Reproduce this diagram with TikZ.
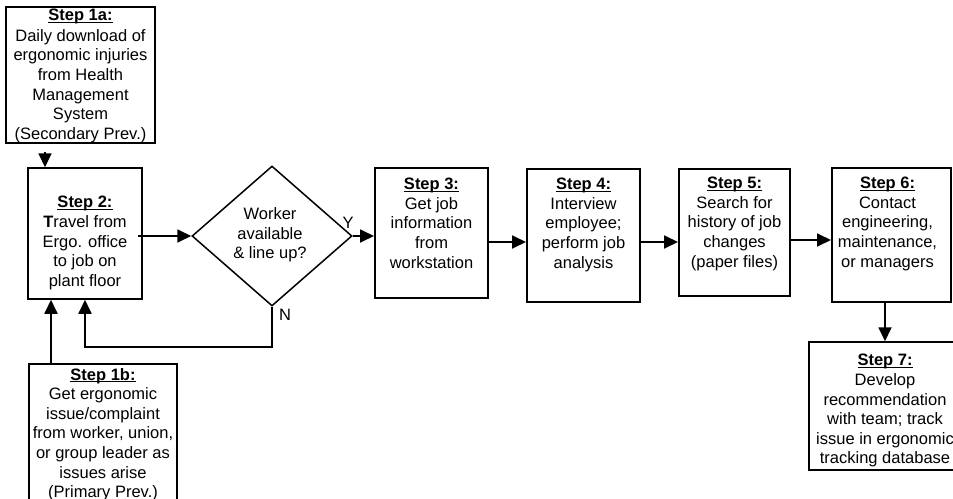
\documentclass[tikz,border=0pt]{standalone}
\usepackage{fontspec}
\setmainfont{Liberation Sans}
\usetikzlibrary{shapes.geometric,arrows.meta}

\newcommand{\stephead}[1]{\sbox0{\textbf{#1}}\rlap{\rule[-2pt]{\wd0}{1.2pt}}\usebox0}

\begin{document}
\begin{tikzpicture}[x=1pt,y=-1pt,
			box/.style={draw, line width=2pt, inner sep=0pt},
			thinbox/.style={draw, line width=1.5pt, inner sep=0pt},
			txt/.style={font=\fontsize{16.5}{19.6}\selectfont, align=center, inner sep=0pt},
			flow/.style={line width=1.8pt, -{Triangle[length=14pt,width=13pt]}}]
			\useasboundingbox (0,0) rectangle (953,498);
			\clip (0,0) rectangle (953,498);
			% boxes
			\node[box, minimum width=149pt, minimum height=136pt] (s1a) at (80.5,75) {};
			\node[thinbox, minimum width=114pt, minimum height=131pt] (s2) at (85,233.5) {};
			\node[box, minimum width=148pt, minimum height=144pt] (s1b) at (103,436) {};
			\node[draw, diamond, line width=1.5pt, aspect=1.14, inner sep=0pt, minimum width=160pt, minimum height=140pt] (dec) at (272,236) {};
			\node[box, minimum width=113pt, minimum height=130pt] (s3) at (431.5,233) {};
			\node[box, minimum width=113pt, minimum height=133pt] (s4) at (583.5,235.5) {};
			\node[box, minimum width=111pt, minimum height=127pt] (s5) at (734.5,232.5) {};
			\node[box, minimum width=119pt, minimum height=134pt] (s6) at (891.5,235) {};
			\node[thinbox, minimum width=152pt, minimum height=128pt] (s7) at (885,406) {};
			% texts
			\node[txt, anchor=north] (t1a) at ([yshift=-3pt]s1a.north) {\stephead{Step 1a:}\\[1pt]Daily download of\\ergonomic injuries\\from Health\\Management\\System\\(Secondary Prev.)};
			\node[txt, anchor=north] (t2) at ([yshift=-29pt]s2.north) {\stephead{Step 2:}\\\textbf{T}ravel from\\Ergo. office\\to job on\\plant floor};
			\node[txt, anchor=north] (t1b) at ([yshift=-5pt]s1b.north) {\stephead{Step 1b:}\\Get ergonomic\\issue/complaint\\from worker, union,\\or group leader as\\issues arise\\(Primary Prev.)};
			\node[txt] (tdec) at (270,235) {Worker\\available\\\& line up?};
			\node[txt, anchor=north] (t3) at ([yshift=-11pt]s3.north) {\stephead{Step 3:}\\Get job\\information\\from\\workstation};
			\node[txt, anchor=north] (t4) at ([yshift=-10pt]s4.north) {\stephead{Step 4:}\\Interview\\employee;\\perform job\\analysis};
			\node[txt, anchor=north] (t5) at ([yshift=-9pt]s5.north) {\stephead{Step 5:}\\Search for\\history of job\\changes\\(paper files)};
			\node[txt, anchor=north] (t6) at ([xshift=-4pt,yshift=-10pt]s6.north) {\stephead{Step 6:}\\Contact\\engineering,\\maintenance,\\or managers};
			\node[txt, anchor=north] (t7) at ([yshift=-13pt]s7.north) {\stephead{Step 7:}\\Develop\\recommendation\\with team; track\\issue in ergonomic\\tracking database};
			\node[txt] (yes) at (348,223) {Y};
			\node[txt] (no) at (285,315) {N};
			% connectors
			\coordinate (d1) at (45,152);
			\coordinate (loop) at (85,347);
			\draw[flow] (d1) -- (d1 |- s2.north);
			\draw[flow] ([xshift=23pt]s1b.north west) -- ([xshift=23pt]s1b.north west |- s2.south);
			\draw[flow] ([xshift=-5pt]s2.east |- dec.west) -- (dec.west);
			\draw[flow] (dec.south) |- (loop) -- (s2.south);
			\draw[flow] (dec.east) -- (dec.east -| s3.west);
			\draw[flow] ([yshift=-9pt]s3.east) -- ([yshift=-9pt]s3.east -| s4.west);
			\draw[flow] ([yshift=-6.5pt]s4.east) -- ([yshift=-6.5pt]s4.east -| s5.west);
			\draw[flow] ([yshift=-7.5pt]s5.east) -- ([yshift=-7.5pt]s5.east -| s6.west);
			\draw[flow] (s7.north |- s6.south) -- (s7.north);
			\end{tikzpicture}
\end{document}
